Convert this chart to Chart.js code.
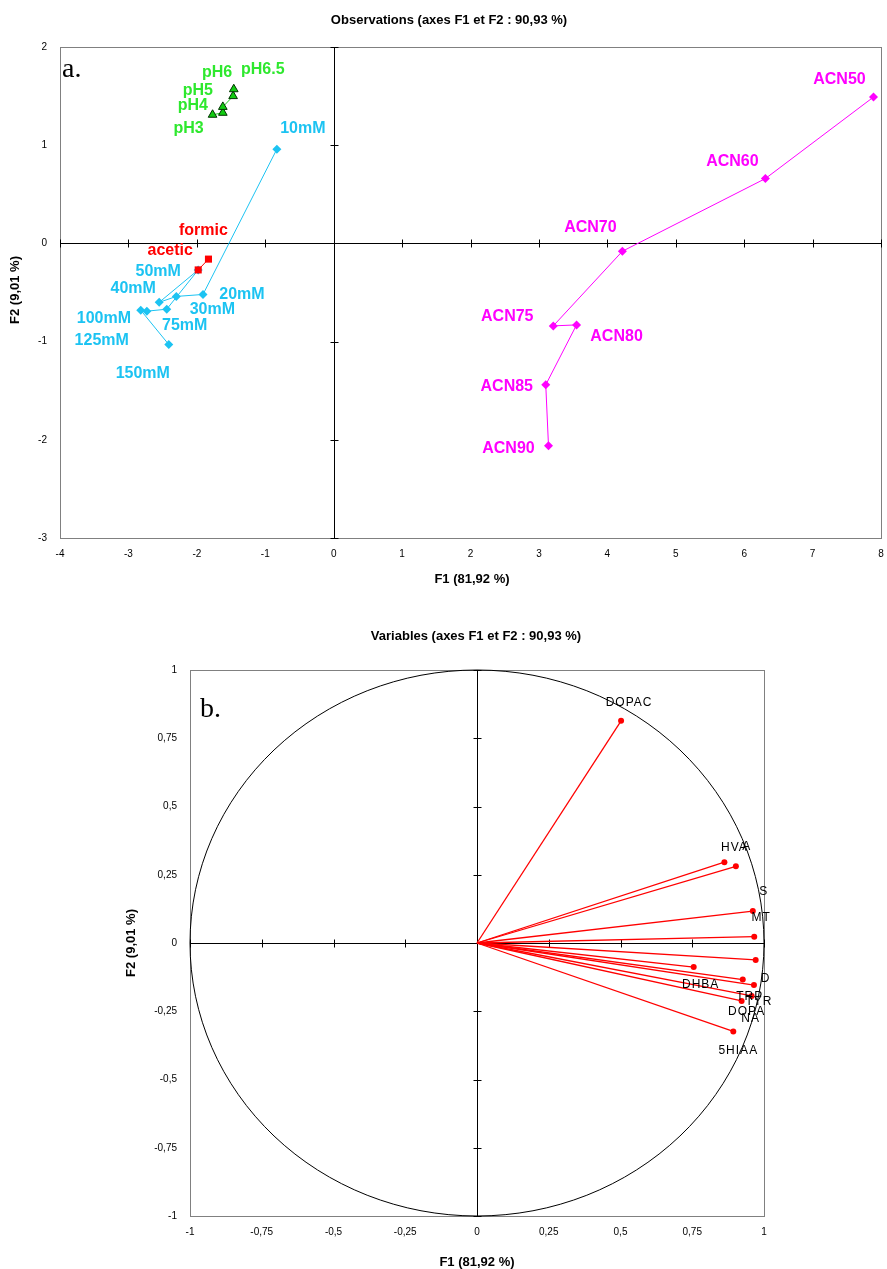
<!DOCTYPE html>
<html>
<head>
<meta charset="utf-8">
<script src="https://cdn.jsdelivr.net/npm/chart.js@4.4.0/dist/chart.umd.min.js"></script>
<style>
  body { margin: 0; background: #fff; }
  #wrap { position: relative; width: 887px; height: 1269px; }
  canvas { position: absolute; left: 0; }
  #obs { top: 0; }
  #vars { top: 590px; }
</style>
</head>
<body>
<div id="wrap">
  <canvas id="obs" width="887" height="590"></canvas>
  <canvas id="vars" width="887" height="679"></canvas>
</div>
<script>
// ---- data ----
const phLabels = ["pH3", "pH4", "pH5", "pH6", "pH6.5"];
const phF1 = [-1.77, -1.62, -1.62, -1.47, -1.46];
const phF2 = [1.31, 1.33, 1.39, 1.50, 1.57];

const concLabels = ["10mM", "20mM", "30mM", "40mM", "50mM", "75mM", "100mM", "125mM", "150mM"];
const concF1 = [-0.83, -1.91, -2.30, -2.55, -1.98, -2.44, -2.73, -2.82, -2.41];
const concF2 = [0.96, -0.52, -0.54, -0.60, -0.27, -0.67, -0.69, -0.68, -1.03];

const acidLabels = ["formic", "acetic"];
const acidF1 = [-1.83, -1.98];
const acidF2 = [-0.16, -0.27];

const acnLabels = ["ACN50", "ACN60", "ACN70", "ACN75", "ACN80", "ACN85", "ACN90"];
const acnF1 = [7.89, 6.31, 4.22, 3.21, 3.55, 3.10, 3.14];
const acnF2 = [1.49, 0.66, -0.08, -0.84, -0.83, -1.44, -2.06];

const varLabels = ["DOPAC", "HVA", "A", "S", "MT", "D", "DHBA", "TRP", "TYR", "DOPA", "NA", "5HIAA"];
const varF1 = [0.502, 0.862, 0.902, 0.961, 0.966, 0.971, 0.755, 0.926, 0.965, 0.957, 0.922, 0.893];
const varF2 = [0.814, 0.296, 0.281, 0.117, 0.023, -0.062, -0.088, -0.134, -0.154, -0.194, -0.212, -0.324];

// label offsets in pixels (text centre relative to the point)
const phOffsets = [[-24, 14], [-30, -7], [-25, -16], [-16, -24], [29, -20]];
const concOffsets = [[26, -21], [39, 0], [36, 13], [-26, -14], [-40, 2], [18, 16], [-43, 7], [-39, 30], [-26, 29]];
const acidOffsets = [[-5, -29], [-28, -19]];
const acnOffsets = [[-34, -17], [-33, -17], [-32, -24], [-46, -9], [40, 12], [-39, 2], [-40, 3]];
const varOffsets = [[8, -18], [10, -15], [11, -20], [11, -19], [7, -19], [10, 19], [7, 18], [7, 17], [5, 17], [-5, 16], [9, 18], [5, 19]];

const narrow = '"Liberation Sans Narrow", "Arial Narrow", "Liberation Sans", Arial, sans-serif';
const sans = '"Liberation Sans", Arial, sans-serif';

function pts(f1, f2) {
  return f1.map((v, i) => ({ x: v, y: f2[i] }));
}

// frame, zero axes with ticks, labels and titles
function decor(opts) {
  return {
    id: "decor",
    beforeDatasetsDraw(chart) {
      const { ctx, chartArea: a, scales: { x, y } } = chart;
      ctx.save();
      ctx.strokeStyle = "#808080";
      ctx.lineWidth = 1;
      ctx.strokeRect(a.left + 0.5, a.top + 0.5, a.width, a.height);

      if (opts.circle) {
        const cx = x.getPixelForValue(0), cy = y.getPixelForValue(0);
        const rx = x.getPixelForValue(1) - cx, ry = cy - y.getPixelForValue(1);
        ctx.strokeStyle = "#000";
        ctx.beginPath();
        ctx.ellipse(cx, cy, rx, ry, 0, 0, Math.PI * 2);
        ctx.stroke();
      }

      const x0 = Math.round(x.getPixelForValue(0)) + 0.5;
      const y0 = Math.round(y.getPixelForValue(0)) + 0.5;
      ctx.strokeStyle = "#000";
      ctx.beginPath();
      ctx.moveTo(x0, a.top); ctx.lineTo(x0, a.bottom);
      ctx.moveTo(a.left, y0); ctx.lineTo(a.right, y0);
      x.ticks.forEach(t => {
        const px = Math.round(x.getPixelForValue(t.value)) + 0.5;
        ctx.moveTo(px, y0 - 4); ctx.lineTo(px, y0 + 4);
      });
      y.ticks.forEach(t => {
        const py = Math.round(y.getPixelForValue(t.value)) + 0.5;
        ctx.moveTo(x0 - 4, py); ctx.lineTo(x0 + 4, py);
      });
      ctx.stroke();
      ctx.restore();
    },
    afterDatasetsDraw(chart) {
      const { ctx, scales: { x, y } } = chart;
      ctx.save();
      ctx.textAlign = "center";
      ctx.textBaseline = "middle";
      opts.labels.forEach(g => {
        ctx.font = g.font;
        ctx.fillStyle = g.color;
        ctx.letterSpacing = g.spacing || "0px";
        g.names.forEach((name, i) => {
          const px = x.getPixelForValue(g.f1[i]) + g.offsets[i][0];
          const py = y.getPixelForValue(g.f2[i]) + g.offsets[i][1];
          ctx.fillText(name, px, py);
        });
      });
      ctx.letterSpacing = "0px";

      ctx.fillStyle = "#000";
      ctx.font = "bold 13px " + narrow;
      ctx.fillText(opts.title, opts.titlePos[0], opts.titlePos[1]);
      ctx.fillText("F1 (81,92 %)", opts.xTitlePos[0], opts.xTitlePos[1]);
      ctx.save();
      ctx.translate(opts.yTitlePos[0], opts.yTitlePos[1]);
      ctx.rotate(-Math.PI / 2);
      ctx.fillText("F2 (9,01 %)", 0, 0);
      ctx.restore();

      ctx.font = '28px "Liberation Serif", "DejaVu Serif", serif';
      ctx.textAlign = "left";
      ctx.fillText(opts.tag, opts.tagPos[0], opts.tagPos[1]);
      ctx.restore();
    }
  };
}

function axis(min, max, step, fmt, size, isY) {
  return {
    type: "linear",
    min: min,
    max: max,
    grid: { display: false, drawTicks: false },
    border: { display: false },
    ticks: {
      stepSize: step,
      padding: isY ? 13 : 10,
      color: "#000",
      font: { family: narrow, size: 10 },
      callback: fmt
    },
    afterFit: s => {
      if (isY) {
        s.width = size;
        s.paddingTop = 0;
        s.paddingBottom = 0;
      } else {
        s.height = size;
        s.paddingLeft = 0;
        s.paddingRight = 0;
      }
    }
  };
}

const commonPlugins = { legend: { display: false }, tooltip: { enabled: false } };

// ---- a. Observations ----
new Chart(document.getElementById("obs"), {
  type: "scatter",
  data: {
    datasets: [
      {
        data: pts(acidF1, acidF2), showLine: true, order: 0,
        borderColor: "#ff0000", backgroundColor: "#ff0000", borderWidth: 1,
        pointStyle: "rect", pointRadius: 5, pointBorderWidth: 0
      },
      {
        data: pts(concF1, concF2), showLine: true, order: 1,
        borderColor: "#1cc3f2", backgroundColor: "#1cc3f2", borderWidth: 1,
        pointStyle: "rectRot", pointRadius: 4.5, pointBorderWidth: 0
      },
      {
        data: pts(acnF1, acnF2), showLine: true, order: 2,
        borderColor: "#ff00ff", backgroundColor: "#ff00ff", borderWidth: 1,
        pointStyle: "rectRot", pointRadius: 4.5, pointBorderWidth: 0
      },
      {
        data: pts(phF1, phF2), showLine: true, order: 3,
        borderColor: "#22cc22", backgroundColor: "#11cc11", borderWidth: 1,
        pointStyle: "triangle", pointRadius: 5, pointBorderColor: "#003300", pointBorderWidth: 1
      }
    ]
  },
  options: {
    responsive: false,
    animation: false,
    devicePixelRatio: 1,
    layout: { padding: { top: 47, right: -3, left: 0, bottom: 0 } },
    scales: {
      x: axis(-4, 8, 1, v => String(v), 52, false),
      y: axis(-3, 2, 1, v => String(v), 60, true)
    },
    plugins: commonPlugins
  },
  plugins: [decor({
    title: "Observations (axes F1 et F2 : 90,93 %)",
    titlePos: [449, 20],
    xTitlePos: [472, 579],
    yTitlePos: [15, 290],
    tag: "a.",
    tagPos: [62, 70],
    labels: [
      { names: concLabels, f1: concF1, f2: concF2, offsets: concOffsets, color: "#1cc3f2", font: "bold 16px " + sans },
      { names: acnLabels, f1: acnF1, f2: acnF2, offsets: acnOffsets, color: "#ff00ff", font: "bold 16px " + sans },
      { names: acidLabels, f1: acidF1, f2: acidF2, offsets: acidOffsets, color: "#ff0000", font: "bold 16px " + sans },
      { names: phLabels, f1: phF1, f2: phF2, offsets: phOffsets, color: "#2ee82e", font: "bold 16px " + sans }
    ]
  })]
});

// ---- b. Variables ----
const varSets = varLabels.map((name, i) => ({
  label: name,
  data: [{ x: 0, y: 0 }, { x: varF1[i], y: varF2[i] }],
  showLine: true,
  borderColor: "#ff0000",
  backgroundColor: "#ff0000",
  borderWidth: 1.3,
  pointRadius: [0, 3],
  pointBorderWidth: 0
}));

const commaFmt = v => String(v).replace(".", ",");

new Chart(document.getElementById("vars"), {
  type: "scatter",
  data: { datasets: varSets },
  options: {
    responsive: false,
    animation: false,
    devicePixelRatio: 1,
    layout: { padding: { top: 80, right: 123, left: 0, bottom: 0 } },
    scales: {
      x: axis(-1, 1, 0.25, commaFmt, 53, false),
      y: axis(-1, 1, 0.25, commaFmt, 190, true)
    },
    plugins: commonPlugins
  },
  plugins: [decor({
    circle: true,
    title: "Variables (axes F1 et F2 : 90,93 %)",
    titlePos: [476, 46],
    xTitlePos: [477, 672],
    yTitlePos: [131, 353],
    tag: "b.",
    tagPos: [200, 120],
    labels: [
      { names: varLabels, f1: varF1, f2: varF2, offsets: varOffsets, color: "#000", font: "12px " + sans, spacing: "1px" }
    ]
  })]
});
</script>
</body>
</html>
